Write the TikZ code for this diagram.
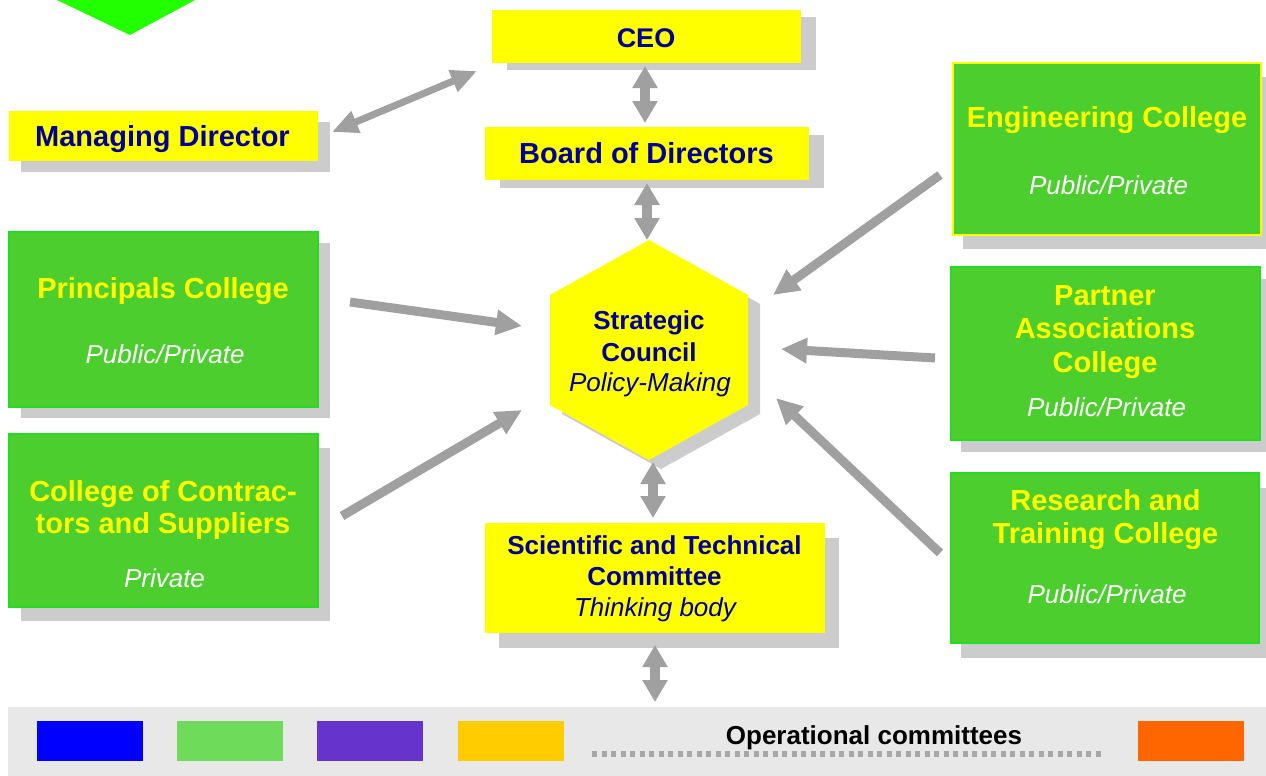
\documentclass[tikz,border=0pt]{standalone}
\usepackage{fontspec}
\setmainfont{Liberation Sans}
\usetikzlibrary{arrows.meta,shadows}
\definecolor{ylw}{HTML}{FFFF00}
\definecolor{navy}{HTML}{000099}
\definecolor{grn}{HTML}{4CCF2E}
\definecolor{grnb}{HTML}{22DD22}
\definecolor{shd}{HTML}{CCCCCC}
\definecolor{arr}{HTML}{A0A0A0}
\definecolor{barc}{HTML}{E8E8E8}
\definecolor{dotc}{HTML}{A8A8A8}
\definecolor{tri}{HTML}{22FF00}
\definecolor{sqblue}{HTML}{0000FF}
\definecolor{sqgreen}{HTML}{6EDC5A}
\definecolor{sqpurple}{HTML}{6633CC}
\definecolor{sqgold}{HTML}{FFCC00}
\definecolor{sqorange}{HTML}{FF6600}
\begin{document}
\begin{tikzpicture}[x=1pt,y=-1pt,
  box/.style={inner sep=0pt, outer sep=0pt},
  ybox/.style={box, fill=ylw},
  gbox/.style={box, fill=grn, draw=grnb, line width=1.5pt},
  shad/.style 2 args={drop shadow={shadow xshift=#1pt, shadow yshift=-#2pt, fill=shd, opacity=1}},
  tt/.style={inner sep=0pt, text depth=0pt},
  t29/.style={tt, font=\bfseries\fontsize{29}{33}\selectfont, text height=20.8pt},
  t27/.style={tt, font=\bfseries\fontsize{27}{31}\selectfont, text height=19.4pt},
  t26b/.style={tt, font=\bfseries\fontsize{26}{30}\selectfont, text height=18.7pt},
  t26i/.style={tt, font=\itshape\fontsize{26}{30}\selectfont, text height=18.7pt},
  gtitle/.style={t29, text=ylw},
  gsub/.style={t26i, text=white},
  conn/.style={draw=arr, line width=9pt, -{Triangle[width=24pt,length=26pt]}},
  dconn/.style={draw=arr, line width=10pt, {Triangle[width=24pt,length=22pt]}-{Triangle[width=24pt,length=22pt]}},
  mconn/.style={draw=arr, line width=7pt, {Triangle[width=22pt,length=26pt]}-{Triangle[width=22pt,length=26pt]}},
  sq/.style={box, minimum width=106pt, minimum height=40pt}
]
\useasboundingbox (0,0) rectangle (1266,776);

% decorative green triangle at top-left
\fill[tri] (57,0) -- (195,0) -- (130,35) -- cycle;

% bottom bar
\node[box, fill=barc, minimum width=1258pt, minimum height=69pt] (bar) at (637,741.5) {};
\node[sq, fill=sqblue] (sq1) at (90,741) {};
\node[sq, fill=sqgreen] (sq2) at (230,741) {};
\node[sq, fill=sqpurple] (sq3) at (370,741) {};
\node[sq, fill=sqgold] (sq4) at (511,741) {};
\node[sq, fill=sqorange] (sq5) at (1191,741) {};
\draw[draw=dotc, line width=6pt, dash pattern=on 5pt off 4.5pt] (592,754) -- (1102,754);
\node[t26b, text=black] (opc) at (874,735) {Operational committees};

% yellow boxes
\node[ybox, shad={12}{11}, minimum width=309pt, minimum height=50pt] (md) at (163.5,136) {};
\node[t29, text=navy] (mdt) at (162.5,136) {Managing Director};

\node[ybox, shad={15}{7}, minimum width=309pt, minimum height=53pt] (ceo) at (646.5,36.5) {};
\node[t27, text=navy] (ceot) at (646,37.5) {CEO};

\node[ybox, shad={15}{8}, minimum width=324pt, minimum height=53pt] (bod) at (647,153.5) {};
\node[t29, text=navy] (bodt) at (646.5,153) {Board of Directors};

\node[ybox, shad={14}{15}, minimum width=340pt, minimum height=110pt] (stc) at (655,578) {};
\node[t26b, text=navy] (stc1) at (654.5,545.5) {Scientific and Technical};
\node[t26b, text=navy] (stc2) at (654.5,576.5) {Committee};
\node[t26i, text=navy] (stc3) at (655,607.5) {Thinking body};

% hexagon (strategic council)
\coordinate (hc) at (649,350);
\fill[shd] ([shift={(12,9)}]hc) ++(0,-110) -- ++(99,55) -- ++(0,110) -- ++(-99,55) -- ++(-99,-55) -- ++(0,-110) -- cycle;
\fill[ylw] (hc) ++(0,-110) -- ++(99,55) -- ++(0,110) -- ++(-99,55) -- ++(-99,-55) -- ++(0,-110) -- cycle;
\node[t26b, text=navy] (sc1) at (649,320) {Strategic};
\node[t26b, text=navy] (sc2) at (649,352) {Council};
\node[t26i, text=navy] (sc3) at (650,382) {Policy-Making};

% green boxes left
\node[gbox, shad={12}{11}, minimum width=309pt, minimum height=175pt] (pc) at (163.5,319.5) {};
\node[gtitle] (pct) at (163,288.5) {Principals College};
\node[gsub] (pcs) at (165,354.5) {Public/Private};

\node[gbox, shad={12}{14}, minimum width=309pt, minimum height=173pt] (cc) at (163.5,520.5) {};
\node[gtitle] (cct1) at (163,491) {College of Contrac-};
\node[gtitle] (cct2) at (163,523) {tors and Suppliers};
\node[gsub] (ccs) at (164.5,578) {Private};

% green boxes right
\node[gbox, draw=ylw, shad={10}{14}, minimum width=308pt, minimum height=172pt] (ec) at (1107,149) {};
\node[gtitle] (ect) at (1107,117.5) {Engineering College};
\node[gsub] (ecs) at (1108.5,185) {Public/Private};

\node[gbox, shad={10}{12}, minimum width=309pt, minimum height=173pt] (pa) at (1105.5,353.5) {};
\node[gtitle] (pat1) at (1105,295) {Partner};
\node[gtitle] (pat2) at (1105,328.5) {Associations};
\node[gtitle] (pat3) at (1105,362) {College};
\node[gsub] (pas) at (1106.5,407.5) {Public/Private};

\node[gbox, shad={10}{15}, minimum width=308pt, minimum height=170pt] (rt) at (1105,558) {};
\node[gtitle] (rtt1) at (1105.5,500) {Research and};
\node[gtitle] (rtt2) at (1105.5,533) {Training College};
\node[gsub] (rts) at (1107,594) {Public/Private};

% connector end points
\coordinate (mdA) at (332,132);
\coordinate (ceoA) at (477,71);
\coordinate (ceoB) at (645,66);
\coordinate (bodA) at (645,123);
\coordinate (bodB) at (647,183);
\coordinate (hexT) at (647,240);
\coordinate (hexB) at (653,462);
\coordinate (stcT) at (653,518);
\coordinate (stcB) at (655,645);
\coordinate (barT) at (655,702);
\coordinate (pcA) at (350,302);
\coordinate (hexL1) at (522,326);
\coordinate (ccA) at (342,516);
\coordinate (hexL2) at (522,410);
\coordinate (ecA) at (940,175);
\coordinate (hexR1) at (773,295);
\coordinate (paA) at (935,358);
\coordinate (hexR2) at (781,349);
\coordinate (rtA) at (940,553);
\coordinate (hexR3) at (776,398);

% connectors
\draw[mconn] (mdA) -- (ceoA);
\draw[dconn] (ceoB) -- (bodA);
\draw[dconn] (bodB) -- (hexT);
\draw[dconn] (hexB) -- (stcT);
\draw[dconn] (stcB) -- (barT);
\draw[conn] (pcA) -- (hexL1);
\draw[conn] (ccA) -- (hexL2);
\draw[conn] (ecA) -- (hexR1);
\draw[conn] (paA) -- (hexR2);
\draw[conn] (rtA) -- (hexR3);
\end{tikzpicture}
\end{document}
